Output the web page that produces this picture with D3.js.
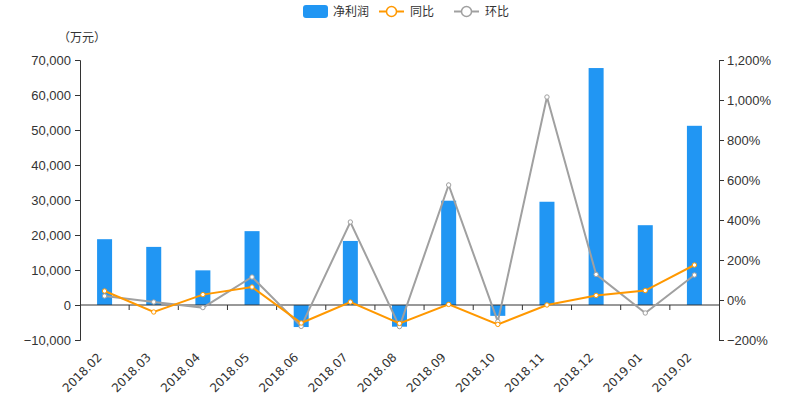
<!DOCTYPE html>
<html><head><meta charset="utf-8">
<script src="https://cdn.jsdelivr.net/npm/d3@7/dist/d3.min.js"></script>
<style>body{margin:0;background:#fff;}svg{display:block;font-family:"DejaVu Sans","Noto Sans CJK SC",sans-serif;}</style>
</head><body><svg id="c" width="800" height="400"></svg>
<script>
const categories = ["2018.02","2018.03","2018.04","2018.05","2018.06","2018.07","2018.08","2018.09","2018.10","2018.11","2018.12","2019.01","2019.02"];
const netProfit = [18800,16600,9900,21100,-6300,18300,-6200,29800,-3100,29500,67700,22800,51200];
const yoy = [45,-60,27,65,-115,-10,-117,-22,-122,-25,23,47,175];
const mom = [20,-10,-38,115,-132,390,-133,575,-108,1015,128,-65,125];
const leftTicks = [-10000,0,10000,20000,30000,40000,50000,60000,70000];
const rightTicks = [-200,0,200,400,600,800,1000,1200];
const legendNames = ["净利润","同比","环比"];
const unitLabel = "（万元）";

const svg = d3.select("#c");
const L = 80, R = 719, T = 60, B = 340;
const x = d3.scaleBand().domain(categories).range([L, R]).padding(0);
const yL = d3.scaleLinear().domain([-10000, 70000]).range([B, T]);
const yR = d3.scaleLinear().domain([-200, 1200]).range([B, T]);
const blue = "#2196f3", orange = "#ff9800", gray = "#a0a0a0", txt = "#333";
const fmt = d3.format(",");

// bars
svg.append("g").selectAll("rect").data(netProfit).join("rect")
  .attr("x", (d,i) => x(categories[i]) + x.bandwidth()/2 - 7.5)
  .attr("width", 15)
  .attr("y", d => yL(Math.max(0,d)))
  .attr("height", d => Math.abs(yL(d) - yL(0)))
  .attr("fill", blue);

// left axis
const gl = svg.append("g").attr("transform", `translate(${L},0)`)
  .call(d3.axisLeft(yL).tickValues(leftTicks).tickFormat(fmt).tickSize(5).tickPadding(4));
gl.selectAll("text").attr("font-size", 13).attr("fill", txt);
gl.selectAll("line,path").attr("stroke", txt);

// right axis
const gr = svg.append("g").attr("transform", `translate(${R},0)`)
  .call(d3.axisRight(yR).tickValues(rightTicks).tickFormat(d => fmt(d) + "%").tickSize(5).tickPadding(3));
gr.selectAll("text").attr("font-size", 13).attr("fill", txt);
gr.selectAll("line,path").attr("stroke", txt);

// x axis at zero
const y0 = yL(0);
const gx = svg.append("g");
gx.append("line").attr("x1", L).attr("x2", R).attr("y1", y0).attr("y2", y0).attr("stroke", txt);
gx.selectAll("line.t").data(categories.slice(1)).join("line").attr("class","t")
  .attr("x1", d => x(d)).attr("x2", d => x(d)).attr("y1", y0).attr("y2", y0 + 5).attr("stroke", txt);
gx.selectAll("text").data(categories).join("text")
  .attr("transform", d => `translate(${x(d) + x.bandwidth()/2 - 2},${B + 18}) rotate(-45)`)
  .attr("text-anchor", "end").attr("font-size", 12).attr("fill", txt).text(d => d);

// lines
function drawLine(data, color) {
  const line = d3.line().x((d,i) => x(categories[i]) + x.bandwidth()/2).y(d => yR(d));
  svg.append("path").datum(data).attr("d", line).attr("fill","none").attr("stroke", color).attr("stroke-width", 2);
  svg.append("g").selectAll("circle").data(data).join("circle")
    .attr("cx", (d,i) => x(categories[i]) + x.bandwidth()/2).attr("cy", d => yR(d))
    .attr("r", 2.2).attr("fill", "#fff").attr("stroke", color).attr("stroke-width", 1);
}
drawLine(mom, gray);
drawLine(yoy, orange);

// unit label
svg.append("text").attr("x", 58).attr("y", 42).attr("font-size", 12).attr("fill", txt)
  .style("font-family", '"Noto Sans CJK SC",sans-serif').text(unitLabel);

// legend
const lg = svg.append("g");
lg.append("rect").attr("x", 303).attr("y", 5).attr("width", 25).attr("height", 13).attr("rx", 3).attr("fill", blue);
lg.append("text").attr("x", 333).attr("y", 16).attr("font-size", 12).attr("fill", txt).text(legendNames[0]);
[[orange, 379, 410, legendNames[1]], [gray, 454, 485, legendNames[2]]].forEach(([c, lx, tx, name]) => {
  lg.append("line").attr("x1", lx).attr("x2", lx + 25).attr("y1", 11.5).attr("y2", 11.5).attr("stroke", c).attr("stroke-width", 2);
  lg.append("circle").attr("cx", lx + 12.5).attr("cy", 11.5).attr("r", 5).attr("fill", "#fff").attr("stroke", c).attr("stroke-width", 1.5);
  lg.append("text").attr("x", tx).attr("y", 16).attr("font-size", 12).attr("fill", txt).text(name);
});
</script></body></html>
